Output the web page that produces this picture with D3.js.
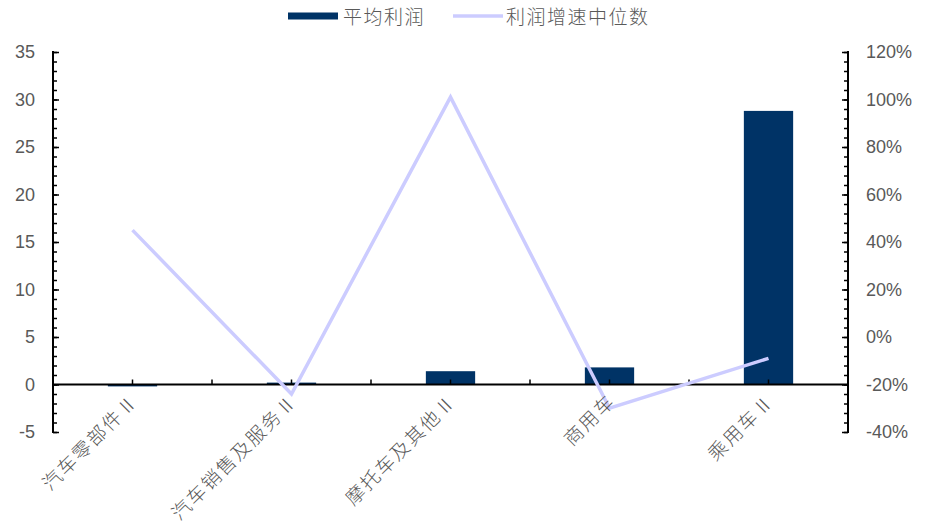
<!DOCTYPE html>
<html><head><meta charset="utf-8">
<script src="https://cdn.jsdelivr.net/npm/d3@7"></script>
<style>
html,body{margin:0;padding:0;background:#fff;}
svg{display:block;}
</style>
</head><body>
<svg id="chart" width="933" height="528"></svg>
<script>
const categories = ["汽车零部件Ⅱ","汽车销售及服务Ⅱ","摩托车及其他Ⅱ","商用车","乘用车Ⅱ"];
const avgProfit = [-0.2, 0.2, 1.4, 1.8, 28.8];
const growthMedian = [45, -24, 101, -30, -9]; // percent
const leftTicks = [-5,0,5,10,15,20,25,30,35];
const rightTicks = [-40,-20,0,20,40,60,80,100,120];
const seriesNames = ["平均利润","利润增速中位数"];

const svg = d3.select("#chart");
const L = 53, R = 848, T = 52, B = 432;
const barColor = "#003366", lineColor = "#ccccff", textColor = "#595959";
const numFont = "'Liberation Sans', Arial, sans-serif";
const cjkFont = "'Noto Sans CJK SC', sans-serif";

const x = d3.scaleBand().domain(categories).range([L, R]).padding(0);
const yL = d3.scaleLinear().domain([-5, 35]).range([B, T]);
const yR = d3.scaleLinear().domain([-40, 120]).range([B, T]);
const barW = x.bandwidth() * 0.31;

// bars
svg.append("g").selectAll("rect").data(categories).join("rect")
  .attr("x", d => x(d) + x.bandwidth()/2 - barW/2)
  .attr("y", (d,i) => yL(Math.max(0, avgProfit[i])))
  .attr("width", barW)
  .attr("height", (d,i) => Math.abs(yL(avgProfit[i]) - yL(0)))
  .attr("fill", barColor);

// left axis
const gl = svg.append("g").attr("transform", `translate(${L},0)`);
gl.call(d3.axisRight(yL).tickValues(d3.range(-5, 35.01, 1)).tickSize(4).tickFormat(""));
gl.call(g => g.selectAll(".tick line").attr("stroke", "#000").attr("stroke-width", 1.5));
gl.select(".domain").remove();
const glM = svg.append("g").attr("transform", `translate(${L},0)`)
  .call(d3.axisRight(yL).tickValues(leftTicks).tickSize(6).tickFormat(""));
glM.selectAll(".tick line").attr("stroke","#000").attr("stroke-width",1.5);
glM.select(".domain").remove();
svg.append("line").attr("x1",L).attr("x2",L).attr("y1",yL(35)-1).attr("y2",yL(-5)+1)
  .attr("stroke","#000").attr("stroke-width",2);
svg.append("g").selectAll("text").data(leftTicks).join("text")
  .attr("x", 35).attr("y", d => yL(d)).attr("dy","0.35em")
  .attr("text-anchor","end").attr("font-family",numFont).attr("font-size",18)
  .attr("fill",textColor).text(d => d);

// right axis
const gr = svg.append("g").attr("transform", `translate(${R},0)`);
gr.call(d3.axisLeft(yR).tickValues(d3.range(-40, 120.01, 4)).tickSize(4).tickFormat(""));
gr.selectAll(".tick line").attr("stroke","#000").attr("stroke-width",1.5);
gr.select(".domain").remove();
const grM = svg.append("g").attr("transform", `translate(${R},0)`)
  .call(d3.axisLeft(yR).tickValues(rightTicks).tickSize(6).tickFormat(""));
grM.selectAll(".tick line").attr("stroke","#000").attr("stroke-width",1.5);
grM.select(".domain").remove();
svg.append("line").attr("x1",R).attr("x2",R).attr("y1",yR(120)-1).attr("y2",yR(-40)+1)
  .attr("stroke","#000").attr("stroke-width",2);
svg.append("g").selectAll("text").data(rightTicks).join("text")
  .attr("x", 866).attr("y", d => yR(d)).attr("dy","0.35em")
  .attr("text-anchor","start").attr("font-family",numFont).attr("font-size",18)
  .attr("fill",textColor).text(d => d + "%");

// x axis at zero
const y0 = yL(0);
svg.append("line").attr("x1",L).attr("x2",R).attr("y1",y0).attr("y2",y0)
  .attr("stroke","#000").attr("stroke-width",2);
const xt = [];
categories.forEach((c,i) => { xt.push(x(c) + x.bandwidth()/2); if (i>0) xt.push(x(c)); });
svg.append("g").selectAll("line").data(xt).join("line")
  .attr("x1", d=>d).attr("x2", d=>d).attr("y1", y0).attr("y2", y0-5)
  .attr("stroke","#000").attr("stroke-width",1.5);

// line
svg.append("path").datum(categories)
  .attr("fill","none").attr("stroke",lineColor).attr("stroke-width",3.5)
  .attr("stroke-linejoin","miter")
  .attr("d", d3.line().x(d => x(d) + x.bandwidth()/2).y((d,i) => yR(growthMedian[i])));

// x labels
svg.append("g").selectAll("text").data(categories).join("text")
  .attr("transform", d => `translate(${x(d) + x.bandwidth()/2 + 7},${y0 + 18}) rotate(-45)`)
  .attr("text-anchor","end").attr("font-family",cjkFont).attr("font-size",19)
  .attr("font-weight",300).attr("letter-spacing","2px").attr("fill",textColor).text(d => d);

// legend
const lg = svg.append("g");
lg.append("rect").attr("x",288).attr("y",12.5).attr("width",50).attr("height",7).attr("fill",barColor);
lg.append("text").attr("x",343).attr("y",17).attr("dy","0.35em").attr("font-family",cjkFont)
  .attr("font-size",19).attr("font-weight",300).attr("letter-spacing","1.5px").attr("fill",textColor).text(seriesNames[0]);
lg.append("line").attr("x1",453).attr("x2",503).attr("y1",16).attr("y2",16)
  .attr("stroke",lineColor).attr("stroke-width",3.5);
lg.append("text").attr("x",506).attr("y",17).attr("dy","0.35em").attr("font-family",cjkFont)
  .attr("font-size",19).attr("font-weight",300).attr("letter-spacing","1.5px").attr("fill",textColor).text(seriesNames[1]);
</script>
</body></html>
